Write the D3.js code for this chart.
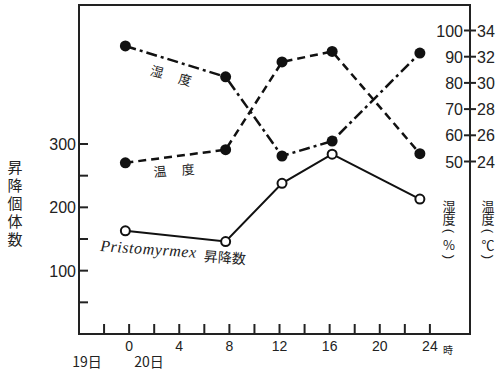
<!doctype html>
<html>
<head>
<meta charset="utf-8">
<script src="https://cdnjs.cloudflare.com/ajax/libs/d3/7.8.5/d3.min.js"></script>
<style>
body { margin:0; background:#fff; }
text { fill:#222; }
.num { font-family:"Liberation Sans", Arial, sans-serif; font-size:16px; }
.jp { font-family:"Noto Sans CJK JP", sans-serif; }
.vt { writing-mode: vertical-rl; }
</style>
</head>
<body>
<div id="chart"></div>
<script>
// hours of each observation (0 = 20日 0時)
var hours = [-0.3, 7.7, 12.2, 16.2, 23.2];
var countVals = [163, 146, 238, 284, 213];     // Pristomyrmex 昇降数
var humidVals = [94.1, 82.3, 52.1, 57.8, 91.4]; // 湿度 (%)
var tempVals = [23.9, 24.9, 31.6, 32.4, 24.6];  // 温度 (℃)

var xTicks = d3.range(-2, 25, 2);
var xLabels = [0, 4, 8, 12, 16, 20, 24];
var leftTicks = [50, 100, 150, 200, 250, 300];
var leftLabels = [100, 200, 300];
var humidTicks = [50, 60, 70, 80, 90, 100];
var tempTicks = [24, 26, 28, 30, 32, 34];

var W = 497, H = 371;
var svg = d3.select("#chart").append("svg")
    .attr("width", W).attr("height", H);

var x = d3.scaleLinear().domain([-4, 27.2]).range([79, 470]);
var yL = d3.scaleLinear().domain([0, 300]).range([334, 144]);
var yH = d3.scaleLinear().domain([50, 100]).range([161.5, 30.5]);
var yT = d3.scaleLinear().domain([24, 34]).range([161.5, 30.5]);

var fL = x.range()[0], fR = x.range()[1], fT = 5, fB = yL(0);

// frame
svg.append("path")
    .attr("d", "M" + fL + "," + fT + "H" + fR + "V" + fB + "H" + fL + "Z")
    .attr("fill", "none").attr("stroke", "#222").attr("stroke-width", 2);

// left ticks (inside)
svg.selectAll(".lt").data(leftTicks).enter().append("line")
    .attr("x1", fL).attr("x2", fL + 9)
    .attr("y1", function(d){ return yL(d); }).attr("y2", function(d){ return yL(d); })
    .attr("stroke", "#222").attr("stroke-width", 2);
svg.selectAll(".ll").data(leftLabels).enter().append("text")
    .attr("class", "num").attr("text-anchor", "end")
    .attr("x", fL - 3).attr("y", function(d){ return yL(d) + 6; })
    .text(function(d){ return d; });

// bottom ticks (inside)
svg.selectAll(".bt").data(xTicks).enter().append("line")
    .attr("x1", function(d){ return x(d); }).attr("x2", function(d){ return x(d); })
    .attr("y1", fB).attr("y2", fB - 10)
    .attr("stroke", "#222").attr("stroke-width", 2);
svg.selectAll(".bl").data(xLabels).enter().append("text")
    .attr("class", "num").style("font-size", "14px").attr("text-anchor", "middle")
    .attr("x", function(d){ return x(d); }).attr("y", 351)
    .text(function(d){ return d; });
svg.append("text").attr("class", "jp").style("font-size", "10px")
    .attr("x", 443).attr("y", 354).text("時");
svg.append("text").attr("class", "jp").style("font-size", "14px").attr("text-anchor", "middle")
    .attr("x", 87).attr("y", 367).text("19日");
svg.append("text").attr("class", "jp").style("font-size", "14px").attr("text-anchor", "middle")
    .attr("x", 149).attr("y", 367).text("20日");

// right axis: ticks cross the frame line
svg.selectAll(".rt").data(humidTicks).enter().append("line")
    .attr("x1", fR - 6).attr("x2", fR + 6)
    .attr("y1", function(d){ return yH(d); }).attr("y2", function(d){ return yH(d); })
    .attr("stroke", "#222").attr("stroke-width", 2);
svg.selectAll(".rh").data(humidTicks).enter().append("text")
    .attr("class", "num").attr("text-anchor", "end")
    .attr("x", fR - 7).attr("y", function(d){ return yH(d) + 6; })
    .text(function(d){ return d; });
svg.selectAll(".rc").data(tempTicks).enter().append("text")
    .attr("class", "num").attr("text-anchor", "start")
    .attr("x", fR + 7).attr("y", function(d){ return yT(d) + 6; })
    .text(function(d){ return d; });

// vertical axis titles
svg.append("text").attr("class", "jp vt").style("font-size", "15px")
    .style("letter-spacing", "3px")
    .attr("x", 15).attr("y", 160).text("昇降個体数");

// humidity / temperature titles, one glyph at a time; brackets turned 90°
function vcol(chars, cx, y0, step, size) {
  chars.forEach(function(c, i) {
    var cy = y0 + i * step;
    var rot = (c === "(" || c === ")") ? 90 : 0;
    svg.append("text").attr("class", rot ? "num" : "jp")
        .style("font-size", size + "px").attr("text-anchor", "middle")
        .attr("dominant-baseline", "central")
        .attr("transform", "translate(" + cx + "," + cy + ") rotate(" + rot + ")")
        .text(c);
  });
}
vcol(["湿", "度", "(", "%", ")"], 449, 205, 13, 13);
vcol(["温", "度", "(", "℃", ")"], 488, 205, 13, 13);

// series
var line = function(ys) {
  return d3.line().x(function(d, i){ return x(hours[i]); }).y(function(d){ return ys(d); });
};

svg.append("path").datum(humidVals)
    .attr("d", line(yH)).attr("fill", "none").attr("stroke", "#111")
    .attr("stroke-width", 2.5).attr("stroke-dasharray", "11,4,3,4");
svg.append("path").datum(tempVals)
    .attr("d", line(yT)).attr("fill", "none").attr("stroke", "#111")
    .attr("stroke-width", 2.5).attr("stroke-dasharray", "8,5");
svg.append("path").datum(countVals)
    .attr("d", line(yL)).attr("fill", "none").attr("stroke", "#111")
    .attr("stroke-width", 2);

svg.selectAll(".hp").data(humidVals).enter().append("circle")
    .attr("cx", function(d, i){ return x(hours[i]); }).attr("cy", function(d){ return yH(d); })
    .attr("r", 5.5).attr("fill", "#111");
svg.selectAll(".tp").data(tempVals).enter().append("circle")
    .attr("cx", function(d, i){ return x(hours[i]); }).attr("cy", function(d){ return yT(d); })
    .attr("r", 5.5).attr("fill", "#111");
svg.selectAll(".cp").data(countVals).enter().append("circle")
    .attr("cx", function(d, i){ return x(hours[i]); }).attr("cy", function(d){ return yL(d); })
    .attr("r", 4.5).attr("fill", "#fff").attr("stroke", "#111").attr("stroke-width", 2);

// in-plot labels
function slanted(t, cx, cy, ang, size) {
  svg.append("text").attr("class", "jp").style("font-size", size + "px")
      .attr("text-anchor", "middle")
      .attr("transform", "translate(" + cx + "," + cy + ") rotate(" + ang + ")")
      .attr("y", size * 0.35).text(t);
}
slanted("湿", 157, 72, 15, 13);
slanted("度", 185, 80, 15, 13);
slanted("温", 160, 172, -5, 13);
slanted("度", 188, 170, -5, 13);

var lab = svg.append("g").attr("transform", "translate(100,251) rotate(4)");
lab.append("text")
    .style("font-family", "'Liberation Serif', 'Times New Roman', serif")
    .style("font-style", "italic").style("font-size", "16px")
    .attr("textLength", 96).attr("x", 0).attr("y", 0).text("Pristomyrmex");
lab.append("text").attr("class", "jp").style("font-size", "14px")
    .attr("x", 104).attr("y", 3).text("昇降数");
</script>
</body>
</html>
